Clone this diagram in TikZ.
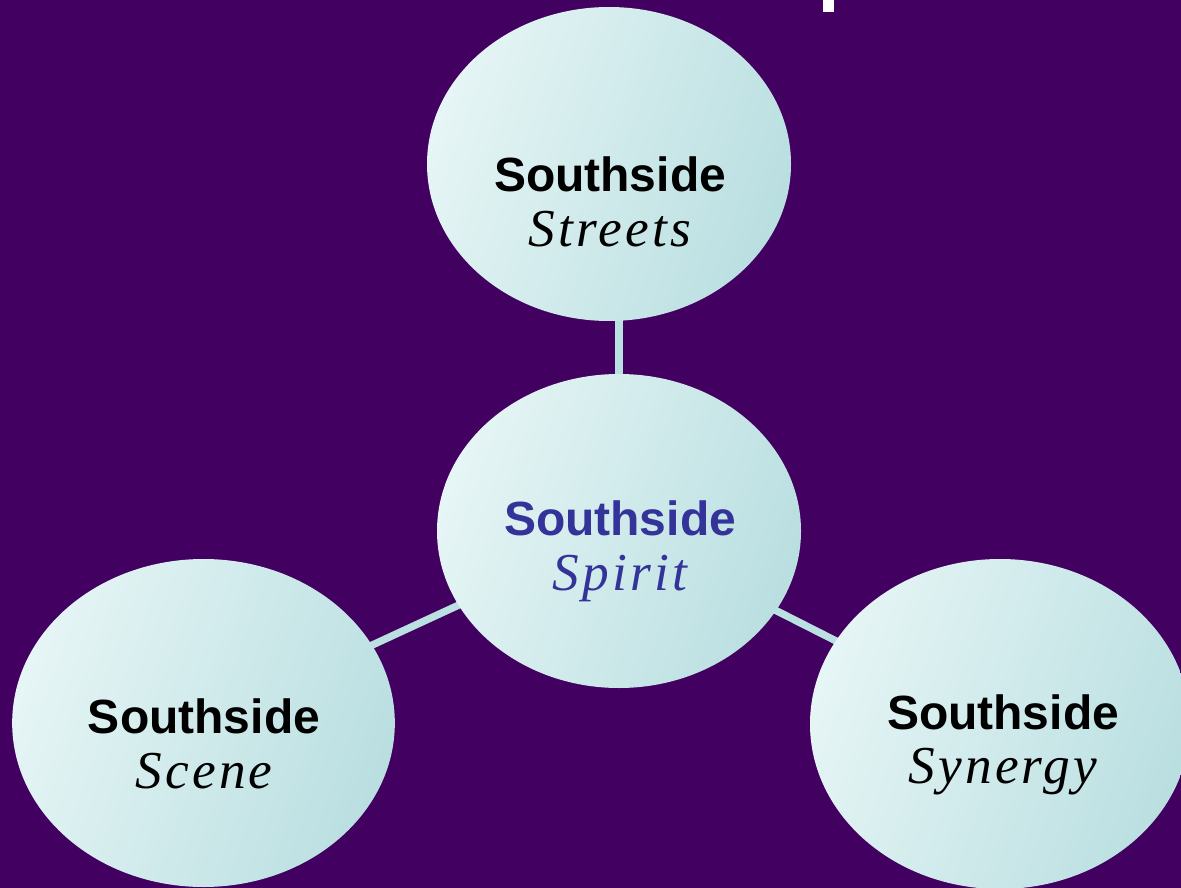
\documentclass[tikz,border=0pt]{standalone}
\usepackage{fontspec}
\setsansfont{Liberation Sans}
\newfontfamily\bubbleit[LetterSpace=6.0]{Liberation Serif}
\usetikzlibrary{shapes.geometric}

\definecolor{bgpurple}{RGB}{66,0,96}
\definecolor{bubblelight}{RGB}{230,245,245}
\definecolor{bubbledark}{RGB}{186,223,225}
\definecolor{linkblue}{RGB}{186,224,226}
\definecolor{spiritblue}{RGB}{51,51,153}

\pgfdeclarelayer{back}
\pgfdeclarelayer{edges}
\pgfsetlayers{back,edges,main}

\tikzset{
	bubble/.style={ellipse, inner sep=0pt, draw=none,
		top color=bubblelight, bottom color=bubbledark, shading angle=70},
	bubbletext/.style={align=center, inner sep=0pt, font=\fontsize{36}{41}\selectfont},
	link/.style={draw=linkblue, line width=5.5pt}
}

\begin{document}
\begin{tikzpicture}[x=0.75pt,y=-0.75pt]
\begin{pgfonlayer}{back}
	\fill [bgpurple] (0,0) rectangle (1181,888);
\end{pgfonlayer}
\useasboundingbox (0,0) rectangle (1181,888);
\fill [white] (823,0) rectangle (834,12);

\node (streets) at (609,164) [bubble, minimum width=273pt, minimum height=235.5pt] {};
\node (spirit) at (619,531) [bubble, minimum width=273pt, minimum height=235.5pt] {};
\node (scene) at (203.5,723) [bubble, minimum width=287pt, minimum height=246pt] {};
\node (synergy) at (1000,724) [bubble, minimum width=285pt, minimum height=247.5pt] {};

\begin{pgfonlayer}{edges}
	\draw [link] (spirit.center) -- (spirit.center |- streets.center);
	\draw [link] (spirit.center) -- (scene.center);
	\draw [link] (spirit.center) -- (synergy.center);
\end{pgfonlayer}

\node (streetslabel) at (610,202) [bubbletext]
	{\sffamily\bfseries Southside\\{\bubbleit\itshape\fontsize{40}{41}\selectfont Streets}};
\node (spiritlabel) at (620,551) [bubbletext, text=spiritblue]
	{\sffamily\bfseries Southside\\{\bubbleit\itshape\fontsize{40}{41}\selectfont Spirit}};
\node (scenelabel) at (204,744) [bubbletext]
	{\sffamily\bfseries Southside\\{\bubbleit\itshape\fontsize{40}{41}\selectfont Scene}};
\node (synergylabel) at (1003,745) [bubbletext]
	{\sffamily\bfseries Southside\\{\bubbleit\itshape\fontsize{40}{41}\selectfont Synergy}};
\end{tikzpicture}
\end{document}
